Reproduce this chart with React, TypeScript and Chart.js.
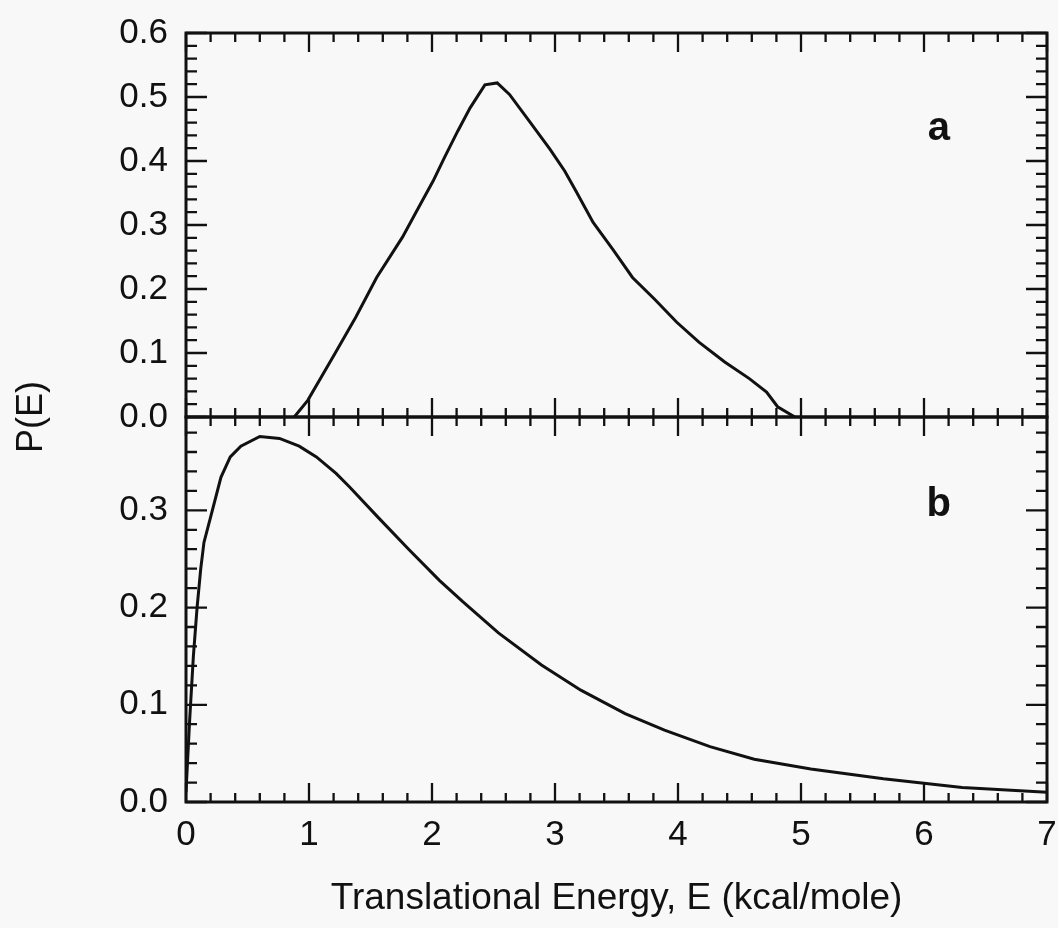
import React, { useEffect, useRef } from "react";
import { Chart, registerables } from "chart.js";

Chart.register(...registerables);

// Panel a: product translational energy distribution
const ENERGY_A = [0.88, 0.99, 1.21, 1.38, 1.55, 1.76, 1.89, 2.01, 2.1, 2.21, 2.31, 2.43, 2.53, 2.63, 2.8, 2.96, 3.08, 3.17, 3.31, 3.47, 3.63, 3.81, 3.99, 4.17, 4.38, 4.58, 4.72, 4.81, 4.95];
const PE_A = [0, 0.026, 0.099, 0.156, 0.218, 0.281, 0.327, 0.369, 0.405, 0.447, 0.483, 0.519, 0.522, 0.504, 0.46, 0.418, 0.384, 0.353, 0.304, 0.262, 0.218, 0.184, 0.148, 0.117, 0.086, 0.06, 0.039, 0.016, 0];

// Panel b: product translational energy distribution
const ENERGY_B = [0, 0.03, 0.06, 0.09, 0.12, 0.146, 0.21, 0.284, 0.36, 0.446, 0.6, 0.76, 0.92, 1.06, 1.22, 1.33, 1.56, 1.81, 2.06, 2.25, 2.54, 2.89, 3.21, 3.57, 3.89, 4.26, 4.62, 5.08, 5.67, 6.31, 7.0];
const PE_B = [0.01, 0.085, 0.15, 0.2, 0.24, 0.267, 0.298, 0.334, 0.355, 0.366, 0.376, 0.374, 0.366, 0.355, 0.338, 0.324, 0.293, 0.26, 0.228, 0.206, 0.174, 0.141, 0.115, 0.091, 0.074, 0.057, 0.044, 0.034, 0.024, 0.015, 0.01];

// Axis ranges
const X_RANGE = [0, 7];
const Y_RANGE_A = [0, 0.6];
const Y_RANGE_B = [0, 0.396];

// Panel tags and their anchor positions (data units)
const PANEL_TAGS = ["a", "b"];
const TAG_POS_A = [6.12, 0.433];
const TAG_POS_B = [6.12, 0.294];

const X_TITLE = "Translational Energy, E (kcal/mole)";
const Y_TITLE = "P(E)";

const INK = "#111111";
const BG = "#f8f8f8";
const FONT = '"Liberation Sans", Arial, Helvetica, sans-serif';

const W = 1058;
const H = 928;
const LEFT = 186;
const RIGHT_PAD = 11;
const TOP_A = 33;
const SPLIT = 417;
const BOTTOM_B = 802;

// Draws the closed frame with inward minor/major ticks on every side,
// plus the panel tag (and optionally the shared y title).
function framePlugin(tag: string, tagPos: number[], drawYTitle: boolean) {
  return {
    id: "frameTicks" + tag,
    afterDatasetsDraw(chart: any) {
      const { ctx, chartArea, scales } = chart;
      const { left, right, top, bottom } = chartArea;
      const x = scales.x;
      const y = scales.y;
      ctx.save();
      ctx.strokeStyle = INK;
      ctx.lineCap = "butt";

      ctx.lineWidth = 2.3;
      ctx.beginPath();
      for (let i = 0; i <= 35; i++) {
        const px = x.getPixelForValue(i * 0.2);
        const len = i % 5 === 0 ? 19 : 9;
        ctx.moveTo(px, top);
        ctx.lineTo(px, top + len);
        ctx.moveTo(px, bottom);
        ctx.lineTo(px, bottom - len);
      }
      const n = Math.floor(y.max / 0.02 + 1e-6);
      for (let i = 0; i <= n; i++) {
        const py = y.getPixelForValue(i * 0.02);
        const len = i % 5 === 0 ? 21 : 11;
        ctx.moveTo(left, py);
        ctx.lineTo(left + len, py);
        ctx.moveTo(right, py);
        ctx.lineTo(right - len, py);
      }
      ctx.stroke();

      ctx.lineWidth = 3;
      ctx.strokeRect(left, top, right - left, bottom - top);

      ctx.fillStyle = INK;
      ctx.font = `bold 40px ${FONT}`;
      ctx.textAlign = "center";
      ctx.textBaseline = "alphabetic";
      ctx.fillText(tag, x.getPixelForValue(tagPos[0]), y.getPixelForValue(tagPos[1]));

      if (drawYTitle) {
        ctx.save();
        ctx.translate(32, SPLIT);
        ctx.rotate(-Math.PI / 2);
        ctx.font = `36px ${FONT}`;
        ctx.textBaseline = "middle";
        ctx.fillText(Y_TITLE, 0, 0);
        ctx.restore();
      }
      ctx.restore();
    },
  };
}

const tickFont = { family: FONT, size: 35 };

function onlyTenths(scale: any) {
  scale.ticks = scale.ticks.filter(
    (t: any) => Math.abs(t.value * 10 - Math.round(t.value * 10)) < 1e-6
  );
}

export default function App() {
  const refA = useRef<HTMLCanvasElement>(null);
  const refB = useRef<HTMLCanvasElement>(null);

  useEffect(() => {
    const chartA = new Chart(refA.current as HTMLCanvasElement, {
      type: "line",
      data: {
        datasets: [
          {
            data: ENERGY_A.map((e, i) => ({ x: e, y: PE_A[i] })),
            borderColor: INK,
            borderWidth: 3,
            pointRadius: 0,
            tension: 0,
          },
        ],
      },
      options: {
        animation: false,
        responsive: false,
        events: [],
        layout: { padding: { left: 0, right: RIGHT_PAD, top: TOP_A, bottom: H - SPLIT } },
        plugins: { legend: { display: false }, tooltip: { enabled: false } },
        scales: {
          x: { type: "linear", min: X_RANGE[0], max: X_RANGE[1], display: false },
          y: {
            min: Y_RANGE_A[0],
            max: Y_RANGE_A[1],
            grid: { display: false, drawTicks: false },
            border: { display: false },
            ticks: {
              stepSize: 0.1,
              padding: 18,
              color: INK,
              font: tickFont,
              callback: (v: any) => Number(v).toFixed(1),
            },
            afterBuildTicks: onlyTenths,
            afterFit: (s: any) => {
              s.width = LEFT;
              s.paddingTop = 0;
              s.paddingBottom = 0;
            },
          },
        },
      },
      plugins: [framePlugin(PANEL_TAGS[0], TAG_POS_A, false)],
    } as any);

    const chartB = new Chart(refB.current as HTMLCanvasElement, {
      type: "line",
      data: {
        datasets: [
          {
            data: ENERGY_B.map((e, i) => ({ x: e, y: PE_B[i] })),
            borderColor: INK,
            borderWidth: 3,
            pointRadius: 0,
            tension: 0,
          },
        ],
      },
      options: {
        animation: false,
        responsive: false,
        events: [],
        layout: { padding: { left: 0, right: RIGHT_PAD, top: SPLIT, bottom: 0 } },
        plugins: { legend: { display: false }, tooltip: { enabled: false } },
        scales: {
          x: {
            type: "linear",
            min: X_RANGE[0],
            max: X_RANGE[1],
            grid: { display: false, drawTicks: false },
            border: { display: false },
            ticks: { stepSize: 1, padding: 12, color: INK, font: tickFont, maxRotation: 0 },
            title: {
              display: true,
              text: X_TITLE,
              color: INK,
              font: { family: FONT, size: 37 },
              padding: { top: 0, bottom: 7 },
            },
            afterFit: (s: any) => {
              s.height = H - BOTTOM_B;
              s.paddingLeft = 0;
              s.paddingRight = 0;
            },
          },
          y: {
            min: Y_RANGE_B[0],
            max: Y_RANGE_B[1],
            grid: { display: false, drawTicks: false },
            border: { display: false },
            ticks: {
              stepSize: 0.1,
              padding: 18,
              color: INK,
              font: tickFont,
              callback: (v: any) => Number(v).toFixed(1),
            },
            afterBuildTicks: onlyTenths,
            afterFit: (s: any) => {
              s.width = LEFT;
              s.paddingTop = 0;
              s.paddingBottom = 0;
            },
          },
        },
      },
      plugins: [framePlugin(PANEL_TAGS[1], TAG_POS_B, true)],
    } as any);

    return () => {
      chartA.destroy();
      chartB.destroy();
    };
  }, []);

  const canvasStyle: React.CSSProperties = {
    position: "absolute",
    left: 0,
    top: 0,
    width: W,
    height: H,
  };

  return (
    <div
      style={{
        position: "absolute",
        left: 0,
        top: 0,
        width: W,
        height: H,
        background: BG,
        overflow: "hidden",
      }}
    >
      <canvas ref={refA} width={W} height={H} style={canvasStyle} />
      <canvas ref={refB} width={W} height={H} style={canvasStyle} />
    </div>
  );
}
